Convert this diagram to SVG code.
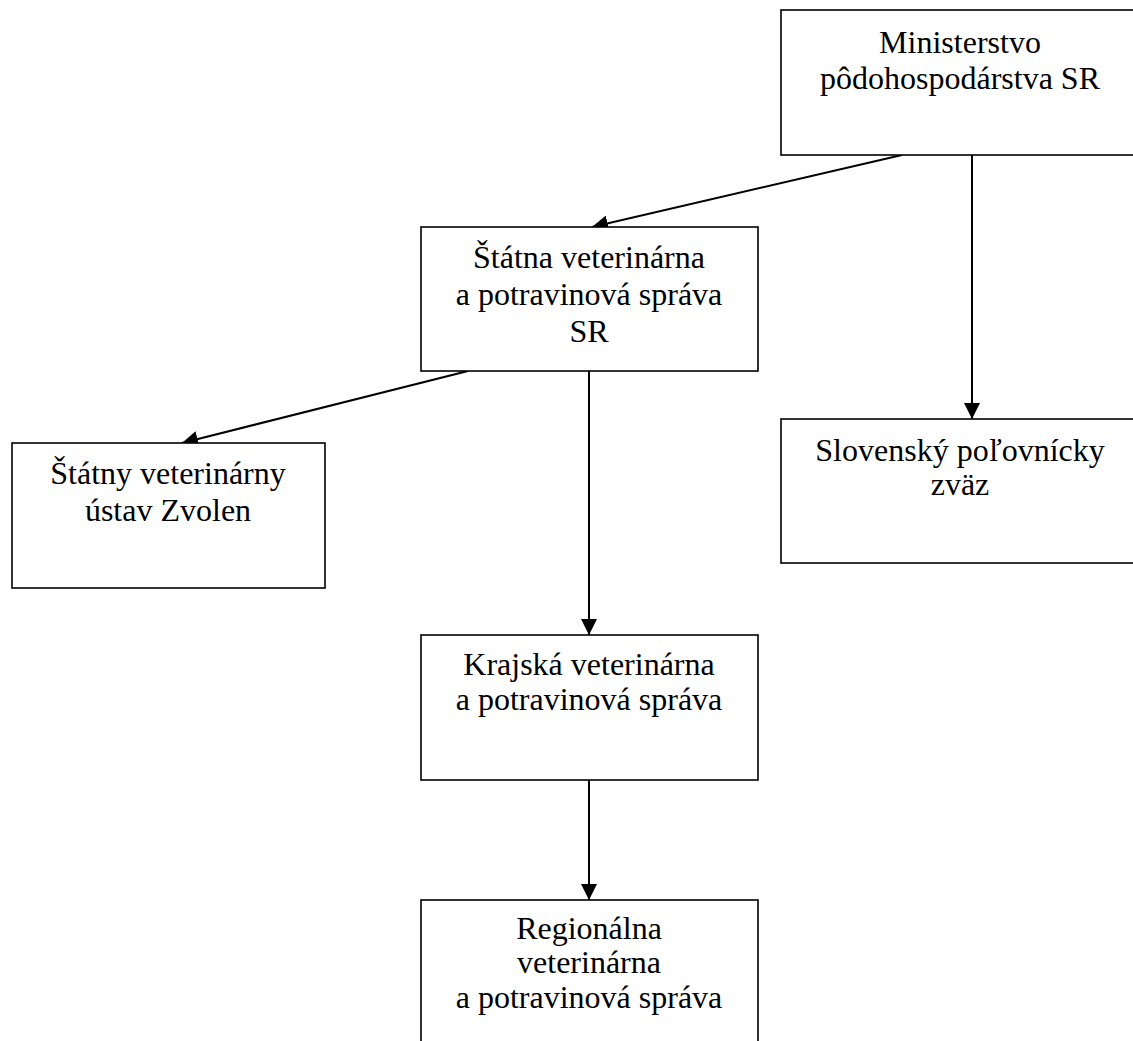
<svg xmlns="http://www.w3.org/2000/svg" width="1133" height="1041" viewBox="0 0 1133 1041">
<style>
.box{fill:#fff;stroke:#000;stroke-width:1.6}
.lbl{font-family:"Liberation Serif","Times New Roman",serif;font-size:32px;fill:#000;text-anchor:middle}
.con{stroke:#000;stroke-width:2;fill:none;marker-end:url(#arr)}
</style>
<defs>
<marker id="arr" viewBox="0 0 16 16" markerWidth="16" markerHeight="16" refX="16" refY="8" orient="auto" markerUnits="userSpaceOnUse">
<path d="M0,0 L16,8 L0,16 z" fill="#000"/>
</marker>
</defs>
<rect width="1133" height="1041" fill="#fff"/>
<g id="connectors">
<line class="con" x1="902" y1="155" x2="592" y2="227"/>
<line class="con" x1="972" y1="155" x2="972" y2="419"/>
<line class="con" x1="468" y1="371" x2="182" y2="443"/>
<line class="con" x1="589" y1="371" x2="589" y2="635"/>
<line class="con" x1="589" y1="780" x2="589" y2="900"/>
</g>
<g id="ministerstvo">
<rect class="box" x="781" y="10" width="360" height="145"/>
<text class="lbl" x="960" y="53">Ministerstvo</text>
<text class="lbl" x="960" y="89">pôdohospodárstva SR</text>
</g>
<g id="svps">
<rect class="box" x="421" y="227" width="337" height="144"/>
<text class="lbl" x="589" y="268">Štátna veterinárna</text>
<text class="lbl" x="589" y="305">a potravinová správa</text>
<text class="lbl" x="589" y="342">SR</text>
</g>
<g id="svu">
<rect class="box" x="12" y="443" width="313" height="145"/>
<text class="lbl" x="168" y="484">Štátny veterinárny</text>
<text class="lbl" x="168" y="521">ústav Zvolen</text>
</g>
<g id="spz">
<rect class="box" x="781" y="419" width="360" height="144"/>
<text class="lbl" x="960" y="461">Slovenský poľovnícky</text>
<text class="lbl" x="960" y="495">zväz</text>
</g>
<g id="kvps">
<rect class="box" x="421" y="635" width="337" height="145"/>
<text class="lbl" x="589" y="675">Krajská veterinárna</text>
<text class="lbl" x="589" y="710">a potravinová správa</text>
</g>
<g id="rvps">
<rect class="box" x="421" y="900" width="337" height="160"/>
<text class="lbl" x="589" y="939">Regionálna</text>
<text class="lbl" x="589" y="973">veterinárna</text>
<text class="lbl" x="589" y="1008">a potravinová správa</text>
</g>
</svg>
